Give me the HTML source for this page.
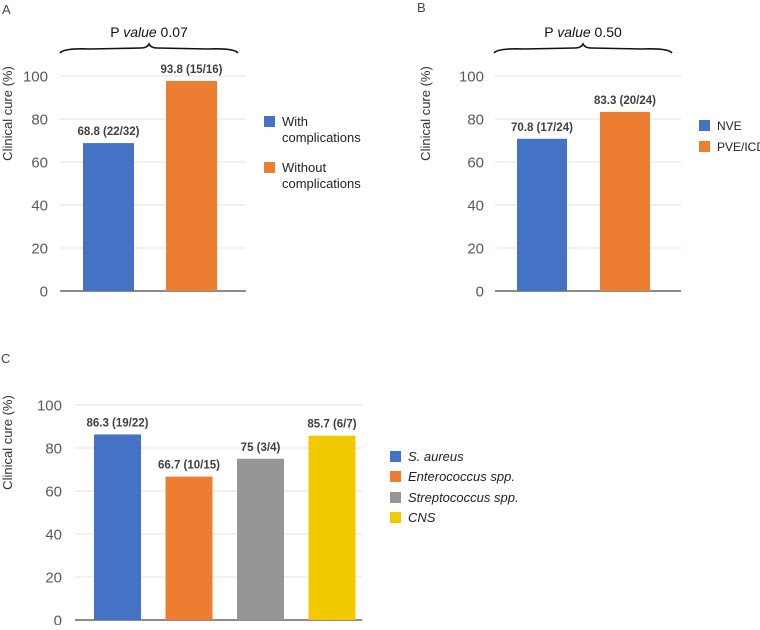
<!DOCTYPE html>
<html><head><meta charset="utf-8"><style>
body{margin:0;background:#fff;width:760px;height:625px;overflow:hidden}
svg{font-family:"Liberation Sans","DejaVu Sans",sans-serif}
</style></head><body>
<svg id="s" width="760" height="625" xmlns="http://www.w3.org/2000/svg"></svg>
<script>
const ticks=[0,20,40,60,80,100];
const catsA=["With complications","Without complications"];
const valsA=[68.8,97.7];
const labelsA=["68.8 (22/32)","93.8 (15/16)"];
const catsB=["NVE","PVE/ICD"];
const valsB=[70.8,83.3];
const labelsB=["70.8 (17/24)","83.3 (20/24)"];
const catsC=["S. aureus","Enterococcus spp.","Streptococcus spp.","CNS"];
const valsC=[86.3,66.7,75,85.7];
const labelsC=["86.3 (19/22)","66.7 (10/15)","75 (3/4)","85.7 (6/7)"];
const colors=["#4472c4","#ed7d31","#969696","#f2c800"];
const NS="http://www.w3.org/2000/svg";
const svg=document.getElementById('s');
function el(t,a,p,txt){const e=document.createElementNS(NS,t);for(const k in a)e.setAttribute(k,a[k]);if(txt!=null)e.textContent=txt;(p||svg).appendChild(e);return e;}
function chart(o){
  const g=el('g',{});
  
  
  const y=v=>o.y0-(v/100)*(o.y0-o.y100);
  ticks.forEach(t=>{
    if(t>0){const l=el('line',{x1:o.x0,x2:o.x1,y1:y(t),y2:y(t),stroke:'#e3e3e3','stroke-width':1},g);
    }
    const tx=el('text',{x:o.tickX,y:y(t)+5.5,'text-anchor':'end','font-size':15,fill:'#595959'},g,String(t));
    
  });
  const ax=el('line',{x1:o.x0,x2:o.x1,y1:o.y0,y2:o.y0,stroke:'#8c8c8c','stroke-width':2},g);
  
  o.vals.forEach((v,i)=>{
    const cx=o.x0+o.pad+o.step*i;
    const r=el('rect',{x:cx-o.bw/2,y:y(v),width:o.bw,height:o.y0-y(v),fill:colors[i]},g);
    
    const lb=el('text',{x:cx,y:y(v)-8,'text-anchor':'middle','font-size':11.5,'font-weight':'bold',fill:'#404040'},g,o.labels[i]);
    
  });
  const yt=el('text',{x:0,y:0,transform:`translate(${o.titleX},${(o.y0+o.y100)/2-70}) rotate(-90)`,'text-anchor':'middle','font-size':13,fill:'#333'},g,'Clinical cure (%)');
  
  const pl=el('text',{x:o.panelX,y:o.panelY,'font-size':13,fill:'#444'},g,o.panel);
  
  o.legend.forEach((c,i)=>{
    const ly=o.legY[i];
    const sq=el('rect',{x:o.legX,y:ly,width:11,height:11,fill:colors[i]},g);
    
    const lines=o.legLines?o.legLines[i]:[c];
    const t=el('text',{x:o.legX+18,y:ly+10,'font-size':o.legFont||13,fill:'#222','font-style':o.italic?'italic':'normal'},g);
    
    lines.forEach((s,j)=>{el('tspan',{x:o.legX+18,dy:j?16:0},t,s);});
  });
  if(o.brace){
    const [bx0,bx1,by]=o.brace,m=(bx0+bx1)/2;
    const p=el('path',{d:`M${bx0},${by+2} Q${bx0+4},${by-3} ${bx0+30},${by-2} L${m-8},${by-3} Q${m-2},${by-3} ${m},${by-7} Q${m+2},${by-3} ${m+8},${by-3} L${bx1-30},${by-2} Q${bx1-4},${by-3} ${bx1},${by+2}`,fill:'none',stroke:'#111','stroke-width':1.6},g);
    
    const t=el('text',{x:m,y:by-14,'text-anchor':'middle','font-size':14,fill:'#111'},g);
    
    el('tspan',{},t,'P ');el('tspan',{'font-style':'italic'},t,'value');el('tspan',{},t,' '+o.p);
  }
}
chart({name:'chart-a',x0:60,x1:246,y0:291,y100:76,bw:51,pad:48.5,step:83,tickX:48,vals:valsA,labels:labelsA,titleX:12,panel:'A',panelX:2,panelY:14,
  legend:catsA,legX:264,legY:[116,162],legLines:[["With","complications"],["Without","complications"]],brace:[60,238,51],p:'0.07'});
chart({name:'chart-b',x0:495,x1:681,y0:291,y100:76,bw:50,pad:47,step:83,tickX:484,vals:valsB,labels:labelsB,titleX:430,panel:'B',panelX:417,panelY:12,
  legend:catsB,legX:699,legY:[120,141],legFont:12,brace:[494,672,51],p:'0.50'});
chart({name:'chart-c',x0:75,x1:362,y0:620,y100:405,bw:47,pad:42.5,step:71.5,tickX:62,vals:valsC,labels:labelsC,titleX:12,panel:'C',panelX:1,panelY:363,
  legend:catsC,legX:390,legY:[451,471,492,512],italic:true});
</script>
</body></html>
